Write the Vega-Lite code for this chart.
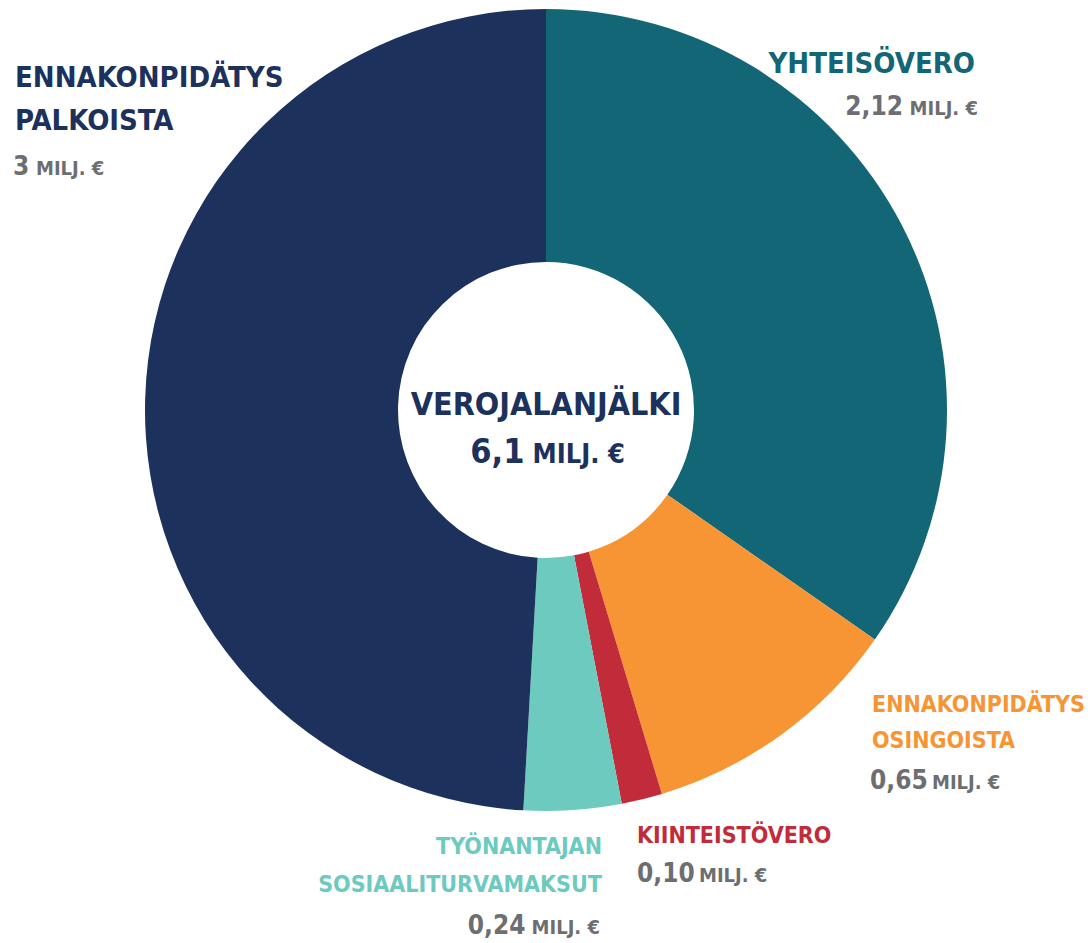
{
  "$schema": "https://vega.github.io/schema/vega-lite/v6.json",
  "width": 1092,
  "height": 820,
  "autosize": {"type": "none"},
  "padding": {"left": 0, "top": 0, "right": 0, "bottom": 123},
  "background": "white",
  "config": {
    "view": {"stroke": null},
    "text": {"font": "DejaVu Sans Condensed, sans-serif", "fontWeight": "bold", "lineBreak": "\n", "baseline": "alphabetic"}
  },
  "layer": [
    {
      "data": {"values": [
        {"cat": "Yhteisövero", "name": "YHTEISÖVERO", "num": "2,12", "unit": "MILJ. €", "value": 2.12, "ord": 1},
        {"cat": "Ennakonpidätys osingoista", "name": "ENNAKONPIDÄTYS\nOSINGOISTA", "num": "0,65", "unit": "MILJ. €", "value": 0.65, "ord": 2},
        {"cat": "Kiinteistövero", "name": "KIINTEISTÖVERO", "num": "0,10", "unit": "MILJ. €", "value": 0.10, "ord": 3},
        {"cat": "Työnantajan sosiaaliturvamaksut", "name": "TYÖNANTAJAN\nSOSIAALITURVAMAKSUT", "num": "0,24", "unit": "MILJ. €", "value": 0.24, "ord": 4},
        {"cat": "Ennakonpidätys palkoista", "name": "ENNAKONPIDÄTYS\nPALKOISTA", "num": "3", "unit": "MILJ. €", "value": 3, "ord": 5}
      ]},
      "encoding": {
        "theta": {"field": "value", "type": "quantitative", "stack": true},
        "order": {"field": "ord", "type": "quantitative"},
        "detail": {"field": "cat", "type": "nominal"},
        "color": {
          "field": "cat", "type": "nominal", "legend": null,
          "scale": {
            "domain": ["Yhteisövero", "Ennakonpidätys osingoista", "Kiinteistövero", "Työnantajan sosiaaliturvamaksut", "Ennakonpidätys palkoista"],
            "range": ["#136675", "#F79433", "#C12B3A", "#6CCABF", "#1C315C"]
          }
        }
      },
      "layer": [
        {"mark": {"type": "arc", "outerRadius": 401, "innerRadius": 148}},

        {"mark": {"type": "text", "radius": 420, "align": "right", "dx": 56.6, "dy": -143.1, "fontSize": 29},
         "encoding": {"text": {"condition": {"test": "datum.ord === 1", "field": "name", "type": "nominal"}, "value": ""}}},
        {"mark": {"type": "text", "radius": 420, "align": "right", "dx": -15.4, "dy": -100.7, "fontSize": 26},
         "encoding": {"color": {"value": "#6D6E71"}, "text": {"condition": {"test": "datum.ord === 1", "field": "num", "type": "nominal"}, "value": ""}}},
        {"mark": {"type": "text", "radius": 420, "align": "right", "dx": 59.6, "dy": -100.7, "fontSize": 20},
         "encoding": {"color": {"value": "#6D6E71"}, "text": {"condition": {"test": "datum.ord === 1", "field": "unit", "type": "nominal"}, "value": ""}}},

        {"mark": {"type": "text", "radius": 420, "align": "left", "dx": 79.5, "dy": -38, "fontSize": 23, "lineHeight": 36},
         "encoding": {"text": {"condition": {"test": "datum.ord === 2", "field": "name", "type": "nominal"}, "value": ""}}},
        {"mark": {"type": "text", "radius": 420, "align": "left", "dx": 77.5, "dy": 39, "fontSize": 26},
         "encoding": {"color": {"value": "#6D6E71"}, "text": {"condition": {"test": "datum.ord === 2", "field": "num", "type": "nominal"}, "value": ""}}},
        {"mark": {"type": "text", "radius": 420, "align": "left", "dx": 139.5, "dy": 39, "fontSize": 20},
         "encoding": {"color": {"value": "#6D6E71"}, "text": {"condition": {"test": "datum.ord === 2", "field": "unit", "type": "nominal"}, "value": ""}}},

        {"mark": {"type": "text", "radius": 420, "align": "left", "dx": -9.5, "dy": 25.6, "fontSize": 23},
         "encoding": {"text": {"condition": {"test": "datum.ord === 3", "field": "name", "type": "nominal"}, "value": ""}}},
        {"mark": {"type": "text", "radius": 420, "align": "left", "dx": -9.5, "dy": 64.2, "fontSize": 26},
         "encoding": {"color": {"value": "#6D6E71"}, "text": {"condition": {"test": "datum.ord === 3", "field": "num", "type": "nominal"}, "value": ""}}},
        {"mark": {"type": "text", "radius": 420, "align": "left", "dx": 52.5, "dy": 64.2, "fontSize": 20},
         "encoding": {"color": {"value": "#6D6E71"}, "text": {"condition": {"test": "datum.ord === 3", "field": "unit", "type": "nominal"}, "value": ""}}},

        {"mark": {"type": "text", "radius": 420, "align": "right", "dx": 27.9, "dy": 25.3, "fontSize": 23, "lineHeight": 38},
         "encoding": {"text": {"condition": {"test": "datum.ord === 4", "field": "name", "type": "nominal"}, "value": ""}}},
        {"mark": {"type": "text", "radius": 420, "align": "right", "dx": -48.6, "dy": 104.9, "fontSize": 26},
         "encoding": {"color": {"value": "#6D6E71"}, "text": {"condition": {"test": "datum.ord === 4", "field": "num", "type": "nominal"}, "value": ""}}},
        {"mark": {"type": "text", "radius": 420, "align": "right", "dx": 25.9, "dy": 104.9, "fontSize": 20},
         "encoding": {"color": {"value": "#6D6E71"}, "text": {"condition": {"test": "datum.ord === 4", "field": "unit", "type": "nominal"}, "value": ""}}},

        {"mark": {"type": "text", "radius": 420, "align": "left", "dx": -111.2, "dy": -310.8, "fontSize": 29, "lineHeight": 43},
         "encoding": {"text": {"condition": {"test": "datum.ord === 5", "field": "name", "type": "nominal"}, "value": ""}}},
        {"mark": {"type": "text", "radius": 420, "align": "left", "dx": -113.2, "dy": -223.3, "fontSize": 26},
         "encoding": {"color": {"value": "#6D6E71"}, "text": {"condition": {"test": "datum.ord === 5", "field": "num", "type": "nominal"}, "value": ""}}},
        {"mark": {"type": "text", "radius": 420, "align": "left", "dx": -90.2, "dy": -223.3, "fontSize": 20},
         "encoding": {"color": {"value": "#6D6E71"}, "text": {"condition": {"test": "datum.ord === 5", "field": "unit", "type": "nominal"}, "value": ""}}}
      ]
    },
    {
      "data": {"values": [{"title": "VEROJALANJÄLKI", "total": "6,1", "unit": "MILJ. €"}]},
      "layer": [
        {"mark": {"type": "text", "align": "center", "dy": 5, "fontSize": 32, "color": "#1C315C"},
         "encoding": {"text": {"field": "title", "type": "nominal"}}},
        {"mark": {"type": "text", "align": "right", "dx": -21.5, "dy": 53, "fontSize": 34, "color": "#1C315C"},
         "encoding": {"text": {"field": "total", "type": "nominal"}}},
        {"mark": {"type": "text", "align": "left", "dx": -13.5, "dy": 53, "fontSize": 27, "color": "#1C315C"},
         "encoding": {"text": {"field": "unit", "type": "nominal"}}}
      ]
    }
  ]
}
